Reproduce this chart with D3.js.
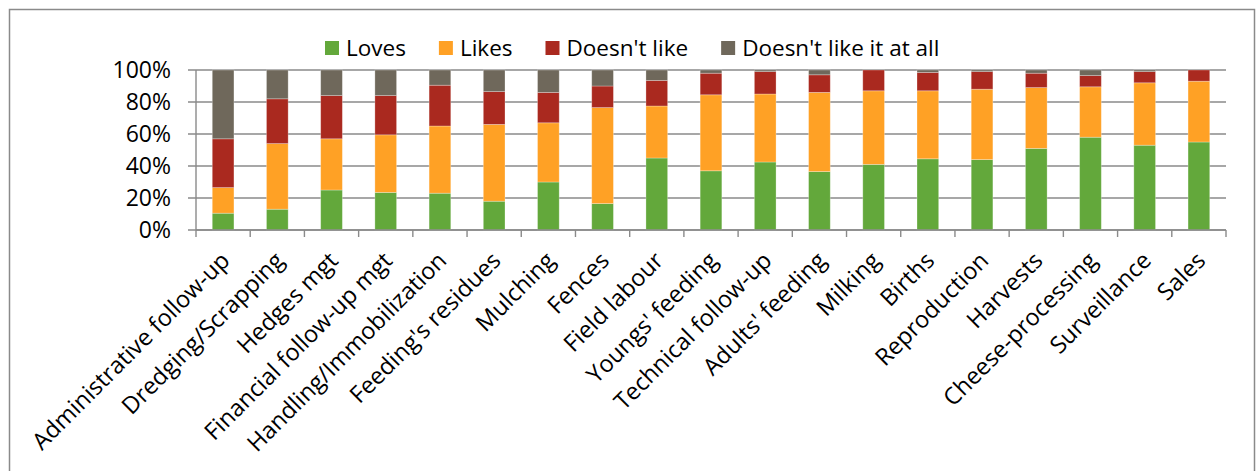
<!DOCTYPE html>
<meta charset="utf-8">
<style>
body { margin: 0; background: #fff; }
text { font-family: "Open Sans", sans-serif; fill: #000; }
.grid line { stroke: #8a8a8a; stroke-width: 1.4; }
.axis line, .axis path { stroke: #8a8a8a; stroke-width: 1.4; }
</style>
<svg width="1257" height="471"></svg>
<script src="https://d3js.org/d3.v7.min.js"></script>
<script>

var categories = ["Administrative follow-up", "Dredging/Scrapping", "Hedges mgt", "Financial follow-up mgt",
  "Handling/Immobilization", "Feeding's residues", "Mulching", "Fences", "Field labour", "Youngs' feeding",
  "Technical follow-up", "Adults' feeding", "Milking", "Births", "Reproduction", "Harvests",
  "Cheese-processing", "Surveillance", "Sales"];

var loves    = [10.5, 13, 25, 23.5, 23, 18, 30, 16.5, 45, 37, 42.5, 36.5, 41, 44.5, 44, 51, 58, 53, 55];
var likes    = [16, 41, 32, 36, 42, 48, 37, 60, 32.5, 47.5, 42.5, 49.5, 46, 42.5, 44, 38, 31.5, 39, 38];
var dislikes = [30.5, 28, 27, 24.5, 25.5, 20.5, 19, 13.5, 16, 13.5, 14, 11, 13, 11.5, 11, 9, 7, 7, 7];
var hates    = [43, 18, 16, 16, 9.5, 13.5, 14, 10, 6.5, 2, 1, 3, 0, 1.5, 1, 2, 3.5, 1, 0];

var seriesNames = ["Loves", "Likes", "Doesn't like", "Doesn't like it at all"];
var yTicks = [0, 20, 40, 60, 80, 100];

var colors = ["#63a83b", "#ffa125", "#aa291f", "#6f685b"];

var svg = d3.select("svg");

// outer frame
svg.append("rect")
    .attr("x", 9.5).attr("y", 9.5)
    .attr("width", 1245).attr("height", 500)
    .attr("fill", "none")
    .attr("stroke", "#8a8a8a")
    .attr("stroke-width", 1.5);

var x = d3.scaleBand()
    .domain(categories)
    .range([196, 1226])
    .padding(0);

var y = d3.scaleLinear()
    .domain([0, 100])
    .range([230, 70]);

var table = categories.map(function(c, i) {
  return { cat: c, s0: loves[i], s1: likes[i], s2: dislikes[i], s3: hates[i] };
});

var stack = d3.stack().keys(["s0", "s1", "s2", "s3"]);
var layers = stack(table);

// gridlines
svg.append("g")
    .attr("class", "grid")
  .selectAll("line")
  .data(yTicks)
  .enter().append("line")
    .attr("x1", 188)
    .attr("x2", 1226)
    .attr("y1", function(d) { return y(d); })
    .attr("y2", function(d) { return y(d); });

// y labels
svg.append("g")
  .selectAll("text")
  .data(yTicks)
  .enter().append("text")
    .attr("x", 171)
    .attr("y", function(d) { return y(d); })
    .attr("dy", "0.36em")
    .attr("text-anchor", "end")
    .style("font-size", "23px")
    .text(function(d) { return d + "%"; });

// y axis line
svg.append("line")
    .attr("x1", 196).attr("x2", 196)
    .attr("y1", y(100)).attr("y2", y(0))
    .attr("stroke", "#8a8a8a").attr("stroke-width", 1.4);

// bars
var bw = x.bandwidth() * 0.4;
svg.append("g")
  .selectAll("g")
  .data(layers)
  .enter().append("g")
    .attr("fill", function(d, i) { return colors[i]; })
  .selectAll("rect")
  .data(function(d) { return d; })
  .enter().append("rect")
    .attr("x", function(d) { return x(d.data.cat) + (x.bandwidth() - bw) / 2; })
    .attr("width", bw)
    .attr("y", function(d) { return y(d[1]); })
    .attr("height", function(d) { return y(d[0]) - y(d[1]); })
    .attr("stroke", "#fff")
    .attr("stroke-opacity", 0.35)
    .attr("stroke-width", 0.8);

// x axis
var xAxis = svg.append("g")
    .attr("class", "axis")
    .attr("transform", "translate(0," + y(0) + ")");

xAxis.append("line")
    .attr("x1", 196).attr("x2", 1226)
    .attr("y1", 0).attr("y2", 0);

var edges = categories.map(function(c) { return x(c); }).concat([x.range()[1]]);
xAxis.selectAll(".tick")
  .data(edges)
  .enter().append("line")
    .attr("class", "tick")
    .attr("x1", function(d) { return d; })
    .attr("x2", function(d) { return d; })
    .attr("y1", 0).attr("y2", 7);

svg.append("g")
  .selectAll("text")
  .data(categories)
  .enter().append("text")
    .attr("transform", function(d) {
      return "translate(" + (x(d) + x.bandwidth() / 2 + 8) + ",262) rotate(-45)";
    })
    .attr("text-anchor", "end")
    .style("font-size", "23.5px")
    .text(function(d) { return d; });

// legend
var legend = svg.append("g").attr("transform", "translate(325,0)");
var lx = 0;
seriesNames.forEach(function(name, i) {
  var item = legend.append("g").attr("transform", "translate(" + lx + ",0)");
  item.append("rect")
      .attr("x", 0).attr("y", 41)
      .attr("width", 14).attr("height", 14)
      .attr("fill", colors[i]);
  var t = item.append("text")
      .attr("x", 21).attr("y", 56)
      .style("font-size", "22.5px")
      .text(name);
  lx += 21 + t.node().getComputedTextLength() + 33;
});

</script>
